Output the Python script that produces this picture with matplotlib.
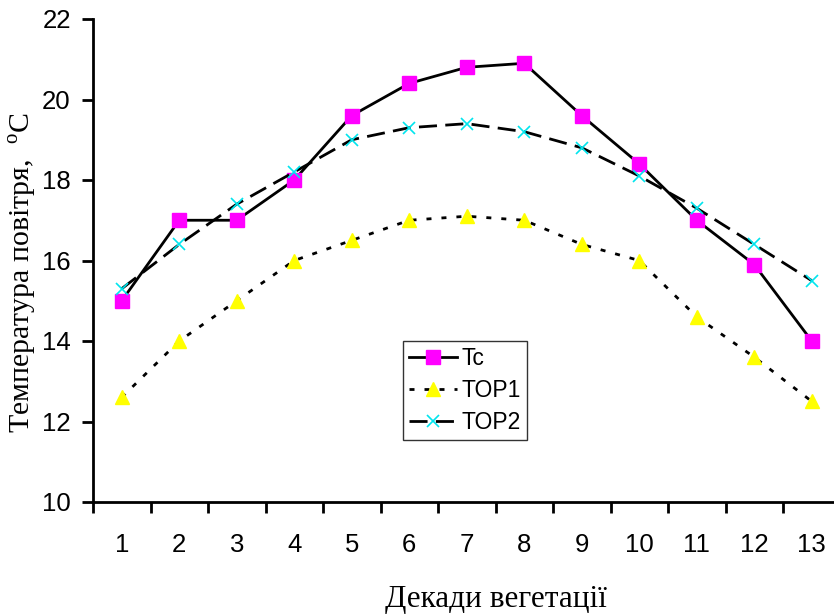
import matplotlib.pyplot as plt
import numpy as np

decades = list(range(1, 14))
tc = [15.0, 17.0, 17.0, 18.0, 19.6, 20.4, 20.8, 20.9, 19.6, 18.4, 17.0, 15.9, 14.0]
top1 = [12.6, 14.0, 15.0, 16.0, 16.5, 17.0, 17.1, 17.0, 16.4, 16.0, 14.6, 13.6, 12.5]
top2 = [15.3, 16.4, 17.4, 18.2, 19.0, 19.3, 19.4, 19.2, 18.8, 18.1, 17.3, 16.4, 15.5]

plt.rcParams['mathtext.fontset'] = 'custom'
plt.rcParams['mathtext.rm'] = 'Liberation Serif'

fig = plt.figure(figsize=(8.34, 6.14), dpi=100)
W, H = 834, 614
# axes box in pixels: left 93, right 840 (cut off by the image edge), top 19, bottom 502
ax_w = 840.5 - 93
ax_h = 502 - 19
ax = fig.add_axes([93 / W, 1 - 502 / H, ax_w / W, ax_h / H])

ax.plot(decades, tc, color='black', lw=2, marker='s', ms=9.5,
        mfc='#ff00ff', mec='#ff00ff', label='Tc')
ax.plot(decades, top1, color='black', lw=2, ls=(0, (1.8, 3.6)), marker='^', ms=10,
        mfc='#ffff00', mec='#ffff00', label='TOP1')
ax.plot(decades, top2, color='black', lw=2, ls=(0, (6.5, 3)), marker='x', ms=9,
        mec='#00e5ee', mew=1.2, label='TOP2')

ax.set_xlim(0.5, 13.5)
ax.set_ylim(10, 22)
ax.set_yticks(np.arange(10, 23, 2))
ax.set_xticks(decades)
ax.set_xticks(np.arange(0.5, 14, 1), minor=True)
ax.tick_params(axis='x', which='major', length=0, pad=22)
ax.tick_params(axis='x', which='minor', length=8, width=2, direction='out')
ax.tick_params(axis='y', length=8, width=2, direction='out', pad=8)
for lab in ax.get_xticklabels() + ax.get_yticklabels():
    lab.set_fontfamily('Liberation Sans')
    lab.set_fontsize(18.5)

for s in ['top', 'right']:
    ax.spines[s].set_visible(False)
for s in ['left', 'bottom']:
    ax.spines[s].set_linewidth(2)

ax.set_xlabel('Декади вегетації', family='Liberation Serif', fontsize=22.5)
ax.xaxis.set_label_coords((496 - 93) / ax_w, -(585 - 502) / ax_h)
ax.set_ylabel('Температура повітря,  $^{\\mathrm{o}}$C', family='Liberation Serif',
              fontsize=21.5)
ax.yaxis.set_label_coords((39 - 93) / ax_w, 1 - (273 - 19) / ax_h)

leg = ax.legend(loc='upper left', bbox_to_anchor=((403 - 93) / ax_w, 1 - (341 - 19) / ax_h),
                frameon=True, fancybox=False, edgecolor='black', handlelength=2.1,
                prop={'family': 'Liberation Sans', 'size': 16.5}, borderpad=0.25,
                labelspacing=0.4, handletextpad=0.2, borderaxespad=0)
leg.get_frame().set_linewidth(1)

plt.savefig('out.png', dpi=100)
